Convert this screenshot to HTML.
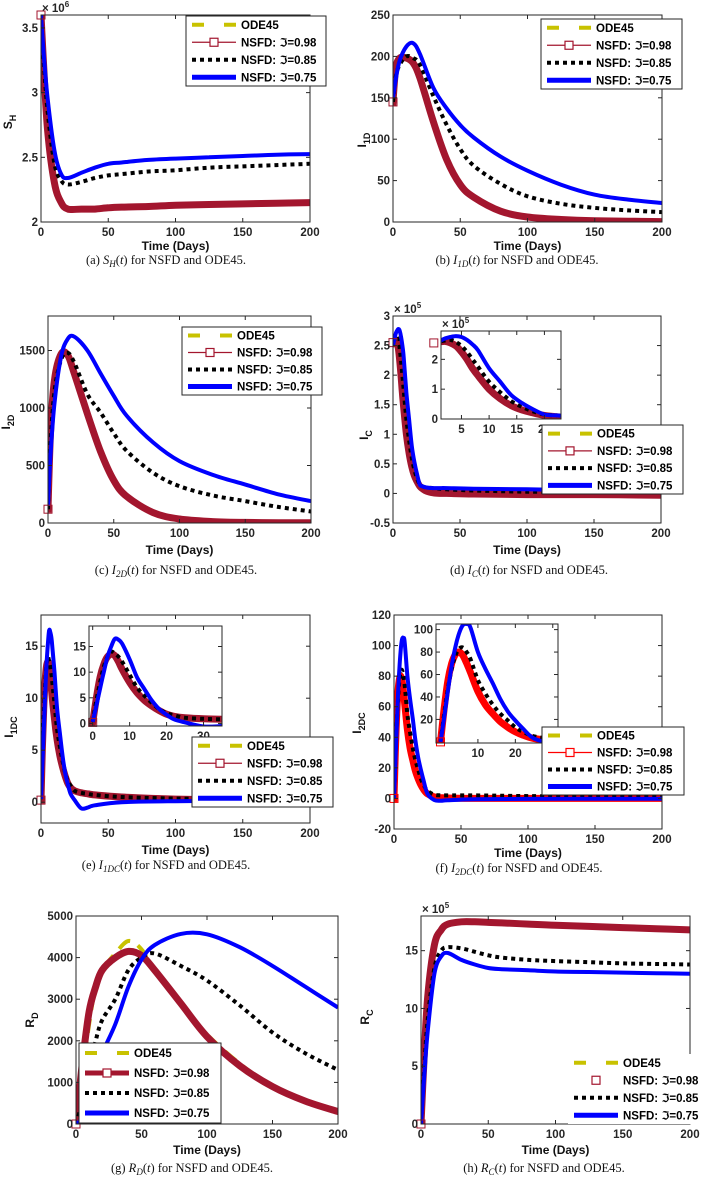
<!DOCTYPE html>
<html><head><meta charset="utf-8">
<style>
html,body{margin:0;padding:0;background:#fff;}
svg{display:block;}
.tk{font:bold 11.5px "Liberation Sans","DejaVu Sans",sans-serif;fill:#262626;}
.lg{font:bold 11.5px "Liberation Sans","DejaVu Sans",sans-serif;fill:#000;}
.cap{font:12.5px "Liberation Serif","DejaVu Serif",serif;fill:#111;}
.yl{font:bold 12px "Liberation Sans","DejaVu Sans",sans-serif;fill:#111;}
</style></head>
<body>
<svg id="fig" width="706" height="1178" viewBox="0 0 706 1178" xmlns="http://www.w3.org/2000/svg"></svg>
<script>
// ---------- time grids ----------
const T_C = [0,2,5,10,15,20,30,40,50,60,80,100,125,150,175,200];
const T_F = [0,1,2,3,4,5,6,7,8,10,12,14,16,18,20,22,25,30,35,40,60,100,150,200];
// ---------- (a) S_H x1e6 ----------
const a_ode = [3.6,3.2,2.7,2.3,2.15,2.1,2.1,2.1,2.11,2.115,2.12,2.13,2.135,2.14,2.145,2.15];
const a_98  = [3.6,3.2,2.7,2.3,2.15,2.1,2.1,2.1,2.11,2.115,2.12,2.13,2.135,2.14,2.145,2.15];
const a_85  = [3.6,3.25,2.85,2.45,2.32,2.29,2.31,2.34,2.36,2.37,2.39,2.40,2.42,2.43,2.44,2.45];
const a_75  = [3.6,3.3,2.95,2.55,2.37,2.34,2.38,2.42,2.45,2.46,2.48,2.49,2.50,2.51,2.52,2.525];
// ---------- (b) I_1D ----------
const b_ode = [145,185,198,198,192,174,121,75,45,30,13,6,3,1.5,1,0.5];
const b_98  = [145,185,198,198,192,174,121,75,45,30,13,6,3,1.5,1,0.5];
const b_85  = [145,175,190,200,198,190,152,117,88,68,46,31,22,17,14,12];
const b_75  = [150,172,195,212,216,203,162,137,117,102,79,62,45,33,27,23];
// ---------- (c) I_2D ----------
const c_ode = [120,800,1250,1470,1460,1300,950,620,370,230,90,35,12,5,3,2];
const c_98  = [120,800,1250,1470,1460,1300,950,620,370,230,90,35,12,5,3,2];
const c_85  = [120,700,1150,1420,1480,1395,1120,960,780,625,436,320,240,190,140,100];
const c_75  = [150,600,1050,1450,1600,1620,1500,1300,1105,930,700,538,420,334,250,190];
// ---------- (d) I_C x1e5 ----------
const d_ode = [2.55,2.58,2.6,2.55,2.45,2.25,2.0,1.7,1.45,1.0,0.68,0.45,0.3,0.2,0.12,0.08,0.04,0.01,0,0,-0.01,-0.02,-0.02,-0.03];
const d_98  = [2.55,2.58,2.6,2.55,2.45,2.25,2.0,1.7,1.45,1.0,0.68,0.45,0.3,0.2,0.12,0.08,0.04,0.01,0,0,-0.01,-0.02,-0.02,-0.03];
const d_85  = [2.55,2.6,2.63,2.65,2.58,2.45,2.25,2.0,1.75,1.25,0.9,0.6,0.4,0.25,0.15,0.12,0.1,0.09,0.08,0.07,0.05,0.03,0.02,0.02];
const d_75  = [2.5,2.6,2.7,2.75,2.78,2.75,2.65,2.5,2.3,1.7,1.25,0.8,0.53,0.32,0.15,0.12,0.1,0.09,0.09,0.09,0.08,0.07,0.05,0.04];
// ---------- (e) I_1DC ----------
const e_ode = [0.2,5,9,11.5,13,13.5,13.2,12,10.5,8,6,4.5,3.4,2.5,1.8,1.4,1.1,0.9,0.8,0.7,0.5,0.3,0.2,0.2];
const e_98  = [0.2,5,9,11.5,13,13.5,13.2,12,10.5,8,6,4.5,3.4,2.5,1.8,1.4,1.1,0.9,0.8,0.7,0.5,0.3,0.2,0.2];
const e_85  = [0.3,4.5,8,11,13,14,13.6,13,12,9.5,7,5.4,4,2.8,2,1.6,1.1,0.9,0.8,0.7,0.5,0.35,0.3,0.3];
const e_75  = [0.3,3.5,6.8,10,13,15,16.5,16.3,15.5,12.5,9,6.7,4.5,2.8,1.7,0.8,0.2,-0.6,-0.5,-0.3,0,0.1,0.15,0.2];
// ---------- (f) I_2DC ----------
const f_ode = [0,30,55,70,78,80,77,70,62,45,33,25,18,13,9,6,3,1,0.5,0.3,0,0,0,0];
const f_98  = [0,30,55,70,78,80,77,70,62,45,33,25,18,13,9,6,3,1,0.5,0.3,0,0,0,0];
const f_85  = [0,25,48,65,77,83,84,80,74,55,43,33,25,19,13,9,5,2.5,2,2,2,1.5,1.2,1];
const f_75  = [0,22,46,68,85,97,104,105,102,80,65,52,38,27,19,12,3,-1,-1.5,-1.2,-0.5,-0.3,-0.2,-0.2];
// ---------- (g) R_D ----------
const g_ode = [0,500,1200,2400,3300,3700,4100,4400,4200,3700,2850,2150,1450,900,550,300];
const g_98  = [0,600,1500,2700,3300,3700,4000,4150,4050,3700,2900,2100,1400,900,550,300];
const g_85  = [0,200,600,1300,2000,2500,3000,3700,4000,4100,3800,3450,2850,2200,1700,1300];
const g_75  = [0,50,200,600,1200,1700,2400,3300,3950,4300,4570,4560,4250,3800,3300,2800];
// ---------- (h) R_C x1e5 ----------
const h_ode = [0,5,11,15.5,16.8,17.3,17.5,17.5,17.45,17.4,17.3,17.2,17.1,17.0,16.9,16.8];
const h_98  = [0,5,11,15.5,16.8,17.3,17.5,17.5,17.45,17.4,17.3,17.2,17.1,17.0,16.9,16.8];
const h_85  = [0,4,9,13.5,15,15.3,15.2,14.9,14.6,14.4,14.2,14.1,14,13.9,13.85,13.8];
const h_75  = [0,3.5,8,13,14.5,14.8,14.2,13.8,13.5,13.4,13.3,13.2,13.15,13.1,13.05,13.0];
// ---------- tick labels ----------
const xTicksMain = [0,50,100,150,200];
const yTicksA = [2,2.5,3,3.5];
const yTicksB = [0,50,100,150,200,250];
const yTicksC = [0,500,1000,1500];
const yTicksD = [-0.5,0,0.5,1,1.5,2,2.5,3];
const yTicksE = [0,5,10,15];
const yTicksF = [-20,0,20,40,60,80,100,120];
const yTicksG = [0,1000,2000,3000,4000,5000];
const yTicksH = [0,5,10,15];
const xTicksInsetD = [5,10,15,20];
const yTicksInsetD = [0,1,2];
const xTicksInsetE = [0,10,20,30];
const yTicksInsetE = [0,5,10,15];
const xTicksInsetF = [10,20,30];
const yTicksInsetF = [20,40,60,80,100];

const NS = 'http://www.w3.org/2000/svg';
const svg = document.getElementById('fig');
function mk(tag, attrs, parent){
  const e = document.createElementNS(NS, tag);
  for (const k in attrs) e.setAttribute(k, attrs[k]);
  (parent||svg).appendChild(e);
  return e;
}
const MAROON = '#a3162e', YEL = '#c8c200', BLUE = '#0000ff';
let clipId = 0;

function smoothPath(pts){
  let d = 'M' + pts[0][0].toFixed(1) + ',' + pts[0][1].toFixed(1);
  for (let i = 0; i < pts.length - 1; i++){
    const p0 = pts[Math.max(0,i-1)], p1 = pts[i], p2 = pts[i+1], p3 = pts[Math.min(pts.length-1,i+2)];
    const c1 = [p1[0] + (p2[0]-p0[0])/6, p1[1] + (p2[1]-p0[1])/6];
    const c2 = [p2[0] - (p3[0]-p1[0])/6, p2[1] - (p3[1]-p1[1])/6];
    d += 'C' + c1[0].toFixed(1) + ',' + c1[1].toFixed(1) + ' ' + c2[0].toFixed(1) + ',' + c2[1].toFixed(1) + ' ' + p2[0].toFixed(1) + ',' + p2[1].toFixed(1);
  }
  return d;
}

function axes(box, xd, yd, xt, yt, name, inset){
  const g = mk('g', {});
  
  
  const sx = t => box.x + (t - xd[0]) / (xd[1] - xd[0]) * box.w;
  const sy = v => box.y + box.h - (v - yd[0]) / (yd[1] - yd[0]) * box.h;
  if (inset){
    const bg = mk('rect', {x:box.x, y:box.y, width:box.w, height:box.h, fill:'#fff'}, g);
    
    
  }
  const id = 'clip' + (clipId++);
  const cp = mk('clipPath', {id:id}, g);
  mk('rect', {x:box.x, y:box.y, width:box.w, height:box.h}, cp);
  const plot = mk('g', {'clip-path':'url(#'+id+')'}, g);
  
  
  return {g, plot, sx, sy, box, xd, yd, xt, yt, name};
}

function frame(ax){
  const {g, box, sx, sy, xt, yt, name} = ax;
  const r = mk('rect', {x:box.x, y:box.y, width:box.w, height:box.h, fill:'none', stroke:'#262626', 'stroke-width':1}, g);
  
  
  xt.forEach(t => {
    const X = sx(t);
    mk('line', {x1:X, x2:X, y1:box.y+box.h, y2:box.y+box.h-4, stroke:'#262626'}, g);
    mk('line', {x1:X, x2:X, y1:box.y, y2:box.y+4, stroke:'#262626'}, g);
    const tx = mk('text', {x:X, y:box.y+box.h+14, 'text-anchor':'middle', class:'tk'}, g);
    tx.textContent = t;
    
    
  });
  yt.forEach(v => {
    const Y = sy(v);
    mk('line', {x1:box.x, x2:box.x+4, y1:Y, y2:Y, stroke:'#262626'}, g);
    mk('line', {x1:box.x+box.w, x2:box.x+box.w-4, y1:Y, y2:Y, stroke:'#262626'}, g);
    const ty = mk('text', {x:box.x-3, y:Y+4, 'text-anchor':'end', class:'tk'}, g);
    ty.textContent = v;
    
    
  });
}

function series(ax, T, vals, kind, col98, name){
  const pts = T.map((t,i) => [ax.sx(t), ax.sy(vals[i])]);
  const st = {fill:'none', 'stroke-linejoin':'round'};
  if (kind === 'ode'){ Object.assign(st, {stroke:YEL, 'stroke-width':4, 'stroke-dasharray':'14 9'}); }
  if (kind === '98'){ Object.assign(st, {stroke:col98, 'stroke-width':7, 'stroke-linecap':'square'}); }
  if (kind === '85'){ Object.assign(st, {stroke:'#000', 'stroke-width':4, 'stroke-dasharray':'4 4'}); }
  if (kind === '75'){ Object.assign(st, {stroke:BLUE, 'stroke-width':4}); }
  st.d = smoothPath(pts);
  const p = mk('path', st, ax.plot);
  
  
  if (kind === '98'){
    const m = mk('rect', {x:pts[0][0]-4, y:pts[0][1]-4, width:8, height:8, fill:'none', stroke:col98, 'stroke-width':1}, ax.g);
    
    
  }
}

function allSeries(ax, T, ode, s98, s85, s75, col98, pfx){
  series(ax, T, ode, 'ode', col98, pfx + '-ode45-line');
  series(ax, T, s98, '98', col98, pfx + '-nsfd-098-line');
  series(ax, T, s85, '85', col98, pfx + '-nsfd-085-line');
  series(ax, T, s75, '75', col98, pfx + '-nsfd-075-line');
}

function legend(L, col98, pfx){
  const g = mk('g', {});
  
  
  const r = mk('rect', {x:L.x, y:L.y, width:L.w, height:L.h, fill:'#fff', stroke:L.noBorder?'none':'#262626', 'stroke-width':1}, g);
  
  
  const labels = ['ODE45', 'NSFD: \u2111=0.98', 'NSFD: \u2111=0.85', 'NSFD: \u2111=0.75'];
  const x1 = L.x + 6, x2 = L.x + 50;
  labels.forEach((lab, i) => {
    const yy = L.y + L.h*(i+0.5)/4;
    let ln;
    if (i === 0) ln = mk('line', {x1:x1, x2:x2, y1:yy, y2:yy, stroke:YEL, 'stroke-width':4, 'stroke-dasharray':'12 20'}, g);
    if (i === 1){
      if (!L.markerOnly) ln = mk('line', {x1:x1, x2:x2, y1:yy, y2:yy, stroke:col98, 'stroke-width':L.thick98?5:1.2}, g);
      const sq = mk('rect', {x:(x1+x2)/2-4, y:yy-4, width:8, height:8, fill:'#fff', stroke:col98, 'stroke-width':1.2}, g);
      
      
    }
    if (i === 2) ln = mk('line', {x1:x1, x2:x2, y1:yy, y2:yy, stroke:'#000', 'stroke-width':4, 'stroke-dasharray':'4 4'}, g);
    if (i === 3) ln = mk('line', {x1:x1, x2:x2, y1:yy, y2:yy, stroke:BLUE, 'stroke-width':5}, g);
    if (ln){
      
      
    }
    const t = mk('text', {x:L.x+55, y:yy+4, class:'lg'}, g);
    t.textContent = lab;
    
    
  });
}

function expo(x, y, p){
  const t = mk('text', {x:x, y:y, class:'tk'});
  t.innerHTML = '\u00d7 10<tspan dy="-5" font-size="8">' + p + '</tspan>';
  
  
}

function ylabel(x, y, main, sub){
  const t = mk('text', {x:x, y:y, class:'yl', 'text-anchor':'middle', transform:'rotate(-90 '+x+' '+y+')'});
  t.innerHTML = main + '<tspan dy="4" font-size="9">' + sub + '</tspan>';
  
  
}
function xlabel(x, y){
  const t = mk('text', {x:x, y:y, class:'yl', 'text-anchor':'middle'});
  t.textContent = 'Time (Days)';
  
  
}
function caption(x, y, letter, main, sub){
  const t = mk('text', {x:x, y:y, class:'cap', 'text-anchor':'middle'});
  t.innerHTML = '(' + letter + ') <tspan font-style="italic">' + main + '</tspan><tspan font-style="italic" font-size="9" dy="3">' + sub + '</tspan><tspan dy="-3">(</tspan><tspan font-style="italic">t</tspan>) for NSFD and ODE45.';
  
  
}

function panel(cfg){
  const ax = axes(cfg.box, [0,200], cfg.yd, xTicksMain, cfg.yt, 'panel-' + cfg.id + '-axes');
  allSeries(ax, cfg.T, cfg.ode, cfg.s98, cfg.s85, cfg.s75, cfg.col98, 'panel-' + cfg.id);
  frame(ax);
  if (cfg.inset){
    const I = cfg.inset;
    const ai = axes(I.box, I.xd, I.yd, I.xt, I.yt, 'panel-' + cfg.id + '-inset', true);
    allSeries(ai, cfg.T, cfg.ode, cfg.s98, cfg.s85, cfg.s75, cfg.col98, 'inset-' + cfg.id);
    frame(ai);
    if (I.exp) expo(I.box.x+1, I.box.y-3, I.exp);
  }
  legend(cfg.leg, cfg.col98, 'panel-' + cfg.id);
  if (cfg.exp) expo(cfg.box.x+1, cfg.box.y-3, cfg.exp);
  ylabel(cfg.yl[0], cfg.yl[1], cfg.yl[2], cfg.yl[3]);
  xlabel(cfg.box.x + cfg.box.w/2, cfg.xlY);
  caption(cfg.cap[0], cfg.cap[1], cfg.id, cfg.cap[2], cfg.cap[3]);
}

panel({id:'a', box:{x:41,y:15,w:269,h:207}, yd:[2,3.6], yt:yTicksA, T:T_C, ode:a_ode, s98:a_98, s85:a_85, s75:a_75, col98:MAROON,
  leg:{x:186,y:16,w:140,h:70}, exp:'6', yl:[12,122,'S','H'], xlY:250, cap:[166,264,'S','H']});
panel({id:'b', box:{x:393,y:15,w:269,h:207}, yd:[0,250], yt:yTicksB, T:T_C, ode:b_ode, s98:b_98, s85:b_85, s75:b_75, col98:MAROON,
  leg:{x:541,y:19,w:141,h:70}, yl:[366,140,'I','1D'], xlY:250, cap:[517,264,'I','1D']});
panel({id:'c', box:{x:48,y:316,w:263,h:207}, yd:[0,1800], yt:yTicksC, T:T_C, ode:c_ode, s98:c_98, s85:c_85, s75:c_75, col98:MAROON,
  leg:{x:182,y:327,w:140,h:68}, yl:[10,422,'I','2D'], xlY:554, cap:[176,574,'I','2D']});
panel({id:'d', box:{x:393,y:316,w:268,h:207}, yd:[-0.5,3], yt:yTicksD, T:T_F, ode:d_ode, s98:d_98, s85:d_85, s75:d_75, col98:MAROON,
  inset:{box:{x:441,y:331,w:120,h:88}, xd:[1.3,23], yd:[0,2.95], xt:xTicksInsetD, yt:yTicksInsetD, exp:'5'},
  leg:{x:542,y:425,w:141,h:69}, exp:'5', yl:[368,435,'I','C'], xlY:554, cap:[529,574,'I','C']});
panel({id:'e', box:{x:41,y:615,w:269,h:208}, yd:[-2,18], yt:yTicksE, T:T_F, ode:e_ode, s98:e_98, s85:e_85, s75:e_75, col98:MAROON,
  inset:{box:{x:89,y:626,w:133,h:100}, xd:[-1,35], yd:[-0.5,19], xt:xTicksInsetE, yt:yTicksInsetE},
  leg:{x:192,y:737,w:141,h:70}, yl:[13,727,'I','1DC'], xlY:854, cap:[166,869,'I','1DC']});
panel({id:'f', box:{x:394,y:615,w:268,h:214}, yd:[-20,120], yt:yTicksF, T:T_F, ode:f_ode, s98:f_98, s85:f_85, s75:f_75, col98:'#ff0000',
  inset:{box:{x:436,y:624,w:122,h:119}, xd:[-1.2,31.4], yd:[-1,105], xt:xTicksInsetF, yt:yTicksInsetF},
  leg:{x:542,y:727,w:142,h:68}, yl:[361,723,'I','2DC'], xlY:857, cap:[519,872,'I','2DC']});
panel({id:'g', box:{x:76,y:916,w:262,h:208}, yd:[0,5000], yt:yTicksG, T:T_C, ode:g_ode, s98:g_98, s85:g_85, s75:g_75, col98:MAROON,
  leg:{x:79,y:1043,w:142,h:80, thick98:true}, yl:[34,1020,'R','D'], xlY:1154, cap:[192,1172,'R','D']});
panel({id:'h', box:{x:421,y:916,w:269,h:208}, yd:[0,18], yt:yTicksH, T:T_C, ode:h_ode, s98:h_98, s85:h_85, s75:h_75, col98:MAROON,
  leg:{x:568,y:1054,w:140,h:70, noBorder:true, markerOnly:true}, exp:'5', yl:[369,1017,'R','C'], xlY:1154, cap:[544,1172,'R','C']});
</script>
</body></html>
